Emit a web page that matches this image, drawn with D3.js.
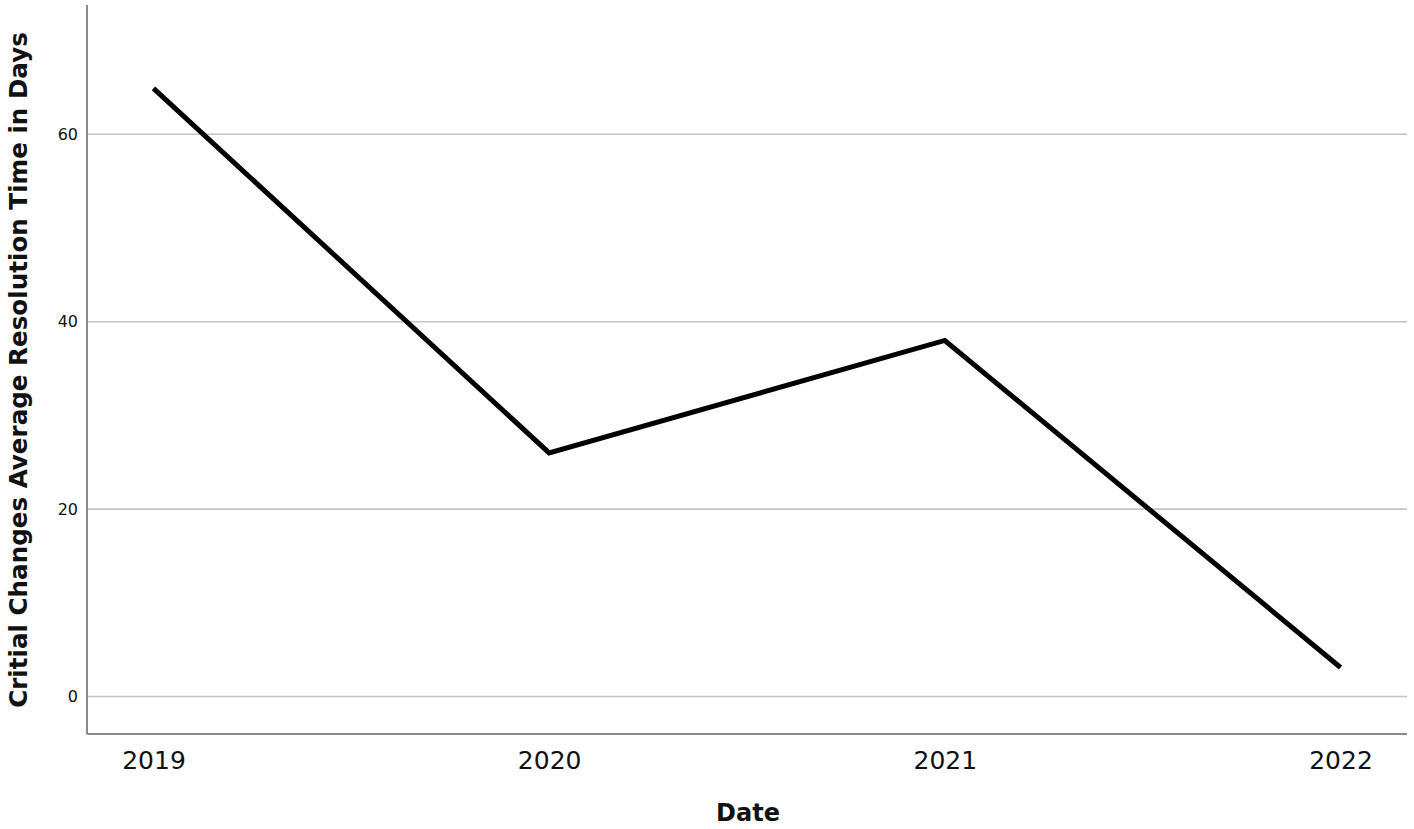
<!DOCTYPE html>
<html>
<head>
<meta charset="utf-8">
<script src="https://cdn.jsdelivr.net/npm/d3@7"></script>
<style>
  html, body { margin: 0; padding: 0; background: #fff; }
  svg { display: block; }
</style>
</head>
<body>
<svg id="chart" width="1414" height="829"></svg>
<script>
const years = ["2019", "2020", "2021", "2022"];
const values = [64.9, 26.0, 38.0, 3.1];
const yTicks = [0, 20, 40, 60];
const xTitle = "Date";
const yTitle = "Critial Changes Average Resolution Time in Days";

const svg = d3.select("#chart");
const mLeft = 87, mRight = 1407, mTop = 5, mBottom = 734;

const x = d3.scalePoint().domain(years).range([mLeft, mRight]).padding(0.168);
const y = d3.scaleLinear().domain([-4, 73.8]).range([mBottom, mTop]);

// gridlines
svg.append("g").selectAll("line").data(yTicks).join("line")
  .attr("x1", mLeft).attr("x2", mRight)
  .attr("y1", d => y(d)).attr("y2", d => y(d))
  .attr("stroke", "#c4c4c4").attr("stroke-width", 1.6);

// y axis
const yAxis = svg.append("g").attr("transform", `translate(${mLeft},0)`)
  .call(d3.axisLeft(y).tickValues(yTicks).tickSize(0).tickPadding(9));
yAxis.select(".domain").remove();
yAxis.selectAll("text")
  .attr("font-family", "DejaVu Sans, sans-serif").attr("font-size", 16).attr("fill", "#111");

// x axis
const xAxis = svg.append("g").attr("transform", `translate(0,${mBottom})`)
  .call(d3.axisBottom(x).tickSize(0).tickPadding(17));
xAxis.select(".domain").remove();
xAxis.selectAll("text")
  .attr("font-family", "DejaVu Sans, sans-serif").attr("font-size", 25).attr("fill", "#111");

// axis lines
svg.append("line").attr("x1", mLeft).attr("x2", mLeft).attr("y1", mTop).attr("y2", mBottom)
  .attr("stroke", "#8a8a8a").attr("stroke-width", 2);
svg.append("line").attr("x1", mLeft).attr("x2", mRight).attr("y1", mBottom).attr("y2", mBottom)
  .attr("stroke", "#8a8a8a").attr("stroke-width", 2);

// data line
const line = d3.line().x((d, i) => x(years[i])).y(d => y(d));
svg.append("path").datum(values)
  .attr("d", line)
  .attr("fill", "none").attr("stroke", "#000").attr("stroke-width", 5)
  .attr("stroke-linejoin", "miter").attr("stroke-linecap", "butt");

// titles
svg.append("text").attr("x", (mLeft + mRight) / 2 + 1).attr("y", 821)
  .attr("text-anchor", "middle")
  .attr("font-family", "DejaVu Sans, sans-serif").attr("font-weight", "bold").attr("font-size", 24)
  .attr("fill", "#111").text(xTitle);

svg.append("text").attr("transform", `translate(27,370) rotate(-90)`)
  .attr("text-anchor", "middle")
  .attr("font-family", "DejaVu Sans, sans-serif").attr("font-weight", "bold").attr("font-size", 24.6)
  .attr("fill", "#111").text(yTitle);
</script>
</body>
</html>
